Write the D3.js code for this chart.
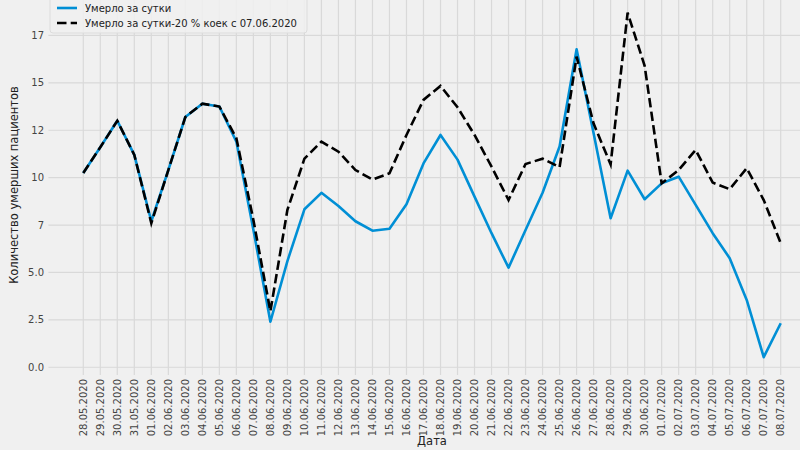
<!DOCTYPE html>
<html><head><meta charset="utf-8">
<script src="https://cdn.jsdelivr.net/npm/d3@7"></script>
<style>
html,body{margin:0;padding:0;background:#f0f0f0;}
svg{display:block;font-family:"DejaVu Sans",sans-serif;}
</style></head>
<body><svg id="c" width="800" height="450"></svg>
<script>
const dates = ["28.05.2020","29.05.2020","30.05.2020","31.05.2020","01.06.2020","02.06.2020","03.06.2020","04.06.2020","05.06.2020","06.06.2020","07.06.2020","08.06.2020","09.06.2020","10.06.2020","11.06.2020","12.06.2020","13.06.2020","14.06.2020","15.06.2020","16.06.2020","17.06.2020","18.06.2020","19.06.2020","20.06.2020","21.06.2020","22.06.2020","23.06.2020","24.06.2020","25.06.2020","26.06.2020","27.06.2020","28.06.2020","29.06.2020","30.06.2020","01.07.2020","02.07.2020","03.07.2020","04.07.2020","05.07.2020","06.07.2020","07.07.2020","08.07.2020"];
const died = [10.25,11.6,13.0,11.2,7.7,10.4,13.2,13.9,13.75,11.9,7.25,2.4,5.6,8.33,9.2,8.5,7.7,7.2,7.3,8.6,10.75,12.25,10.95,9.0,7.07,5.25,7.24,9.2,11.64,16.77,12.34,7.86,10.37,8.86,9.7,10.05,8.56,7.07,5.75,3.55,0.53,2.32];
const diedAdj = [10.25,11.6,13.0,11.2,7.6,10.4,13.2,13.9,13.75,12.08,7.77,2.95,8.3,11.0,11.9,11.37,10.4,9.9,10.23,12.25,14.1,14.84,13.71,12.25,10.58,8.82,10.72,11.0,10.55,16.38,12.85,10.7,18.7,15.9,9.7,10.4,11.46,9.74,9.39,10.5,8.82,6.54];
const yTickValues = [0,2.5,5,7.5,10,12.5,15,17.5];
const yTickLabels = ["0.0","2.5","5.0","7","10","12","15","17"];
const seriesNames = ["Умерло за сутки","Умерло за сутки-20 % коек с 07.06.2020"];

const svg = d3.select("#c");
const n = dates.length;
const x = d3.scaleLinear().domain([-2.05, n-1+2.05]).range([48.4, 815.6]);
const y = d3.scaleLinear().domain([-0.41, 19.65]).range([375, -5.3]);

// grid
const g = svg.append("g");
g.selectAll(".vg").data(dates).enter().append("line")
  .attr("x1",(d,i)=>x(i)).attr("x2",(d,i)=>x(i))
  .attr("y1",y.range()[0]).attr("y2",y.range()[1])
  .attr("stroke","#d9d9d9").attr("stroke-width",1.2);
g.selectAll(".hg").data(yTickValues).enter().append("line")
  .attr("x1",x.range()[0]).attr("x2",x.range()[1])
  .attr("y1",d=>y(d)).attr("y2",d=>y(d))
  .attr("stroke","#d9d9d9").attr("stroke-width",1.2);

// y tick labels
svg.append("g").selectAll("text").data(yTickValues).enter().append("text")
  .attr("x",44).attr("y",d=>y(d)).attr("dy","0.35em")
  .attr("text-anchor","end").attr("font-size",10).attr("fill","#444")
  .text((d,i)=>yTickLabels[i]);

// x tick labels
svg.append("g").selectAll("text").data(dates).enter().append("text")
  .attr("transform",(d,i)=>`translate(${x(i)},379) rotate(-90)`)
  .attr("dy","0.35em").attr("text-anchor","end")
  .attr("font-size",10).attr("fill","#444").text(d=>d);

// axis labels
svg.append("text").attr("x",432).attr("y",445).attr("text-anchor","middle")
  .attr("font-size",11.5).attr("fill","#222").text("Дата");
svg.append("text").attr("transform","translate(18,185) rotate(-90)")
  .attr("text-anchor","middle").attr("font-size",11.5).attr("fill","#222")
  .text("Количество умерших пациентов");

// lines
const line = d3.line().x((d,i)=>x(i)).y(d=>y(d));
svg.append("path").datum(died).attr("d",line).attr("fill","none")
  .attr("stroke","#008fd5").attr("stroke-width",2.6).attr("stroke-linejoin","round");
svg.append("path").datum(diedAdj).attr("d",line).attr("fill","none")
  .attr("stroke","#000").attr("stroke-width",2.6).attr("stroke-dasharray","9.5,4.2");

// legend
const lg = svg.append("g");
lg.append("rect").attr("x",50).attr("y",-6).attr("width",257).attr("height",39).attr("rx",3)
  .attr("fill","#f0f0f0").attr("fill-opacity",0.85).attr("stroke","#dcdcdc").attr("stroke-width",1);
lg.append("line").attr("x1",57).attr("x2",77).attr("y1",8).attr("y2",8)
  .attr("stroke","#008fd5").attr("stroke-width",2.6);
lg.append("line").attr("x1",57).attr("x2",77).attr("y1",23).attr("y2",23)
  .attr("stroke","#000").attr("stroke-width",2.6).attr("stroke-dasharray","9.5,4.2");
lg.selectAll("text").data(seriesNames).enter().append("text")
  .attr("x",85).attr("y",(d,i)=>8+15*i).attr("dy","0.35em")
  .attr("font-size",10).attr("fill","#222").text(d=>d);
</script></body></html>
